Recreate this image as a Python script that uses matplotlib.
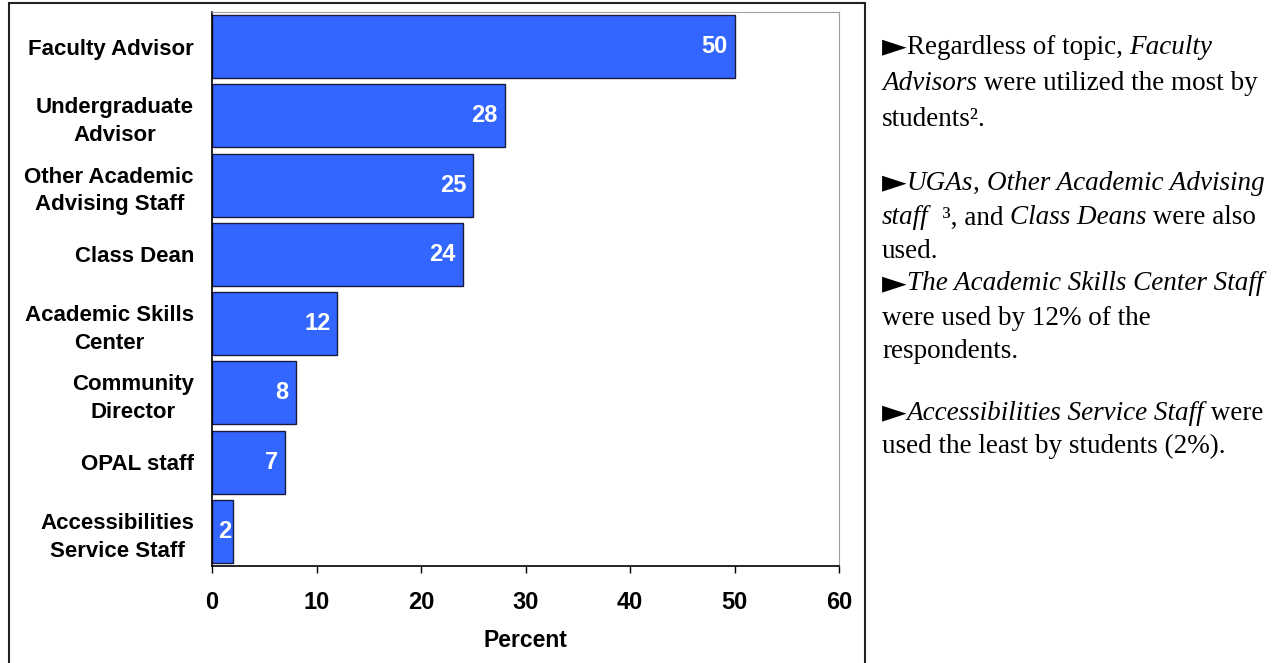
import matplotlib.pyplot as plt
from matplotlib.patches import Rectangle

categories = ["Faculty Advisor", "Undergraduate\nAdvisor", "Other Academic\nAdvising Staff",
              "Class Dean", "Academic Skills\nCenter", "Community\nDirector", "OPAL staff",
              "Accessibilities\nService Staff"]
percent = [50, 28, 25, 24, 12, 8, 7, 2]
xticks = [0, 10, 20, 30, 40, 50, 60]

# bullet notes: each line is a list of (text, italic) runs
notes = [
    (47, [("\u25ba", False), ("Regardless of topic, ", False), ("Faculty", True)]),
    (84, [("Advisors", True), (" were utilized the most by", False)]),
    (120, [("students\u00b2.", False)]),
    (183, [("\u25ba", False), ("UGAs", True), (", ", False), ("Other Academic Advising", True)]),
    (218, [("staff", True), ("  \u00b3, and ", False), ("Class Deans", True), (" were also", False)]),
    (252, [("used.", False)]),
    (284, [("\u25ba", False), ("The Academic Skills Center Staff", True)]),
    (318, [("were used by 12% of the", False)]),
    (352, [("respondents.", False)]),
    (413, [("\u25ba", False), ("Accessibilities Service Staff", True), (" were", False)]),
    (446, [("used the least by students (2%).", False)]),
]

W, H = 1273, 663
fig = plt.figure(figsize=(W / 100, H / 100), dpi=100)
ax = fig.add_axes([212 / W, 1 - 566 / H, (839 - 212) / W, (566 - 12) / H])

# outer frame around the chart
fig.add_artist(Rectangle((9 / W, -0.05), (865 - 9) / W, 1.05 - 3 / H, transform=fig.transFigure,
                         fill=False, edgecolor="#222222", linewidth=1.5))

sans = "Liberation Sans"
y = list(range(len(categories)))
ax.barh(y, percent, height=0.91, color="#3366ff", edgecolor="#1a1a40", linewidth=1.0)
ax.set_ylim(len(categories) - 0.5, -0.5)
ax.set_xlim(0, 60)
ax.set_xticks(xticks)
ax.set_xticklabels([str(t) for t in xticks], fontsize=17, fontweight="bold", family=sans)
ax.tick_params(axis="x", direction="out", length=5, width=1, pad=13)
ax.set_yticks(y)
ax.set_yticklabels(categories, fontsize=16, fontweight="bold", family=sans,
                   ma="center", linespacing=1.42)
ax.tick_params(axis="y", length=0, pad=13)
ax.set_xlabel("Percent", fontsize=16.5, fontweight="bold", family=sans, labelpad=11)

for s in ["top", "right"]:
    ax.spines[s].set_color("#a0a0a0")
for s in ["left", "bottom"]:
    ax.spines[s].set_color("black")
    ax.spines[s].set_linewidth(1.2)

for i, v in enumerate(percent):
    if v < 4:
        ax.text(v / 2 + 0.2, i, str(v), ha="center", va="center", color="white",
                fontsize=17, fontweight="bold", family=sans)
    else:
        ax.annotate(str(v), (v, i), xytext=(-7, 0), textcoords="offset pixels",
                    ha="right", va="center", color="white",
                    fontsize=17, fontweight="bold", family=sans)

# right-hand notes, drawn run by run so italics can be mixed in a line
renderer = fig.canvas.get_renderer()
for ypix, runs in notes:
    x = 882
    for txt, it in runs:
        if txt == "\u25ba":
            fam = ["DejaVu Sans"]
            size = 23
        else:
            fam = ["Liberation Serif", "DejaVu Serif"]
            size = 19.5
        t = fig.text(x / W, 1 - ypix / H, txt, fontsize=size, va="center", ha="left",
                     family=fam, style="italic" if it else "normal")
        bb = t.get_window_extent(renderer)
        x += bb.width

fig.savefig("out.png", dpi=100)
